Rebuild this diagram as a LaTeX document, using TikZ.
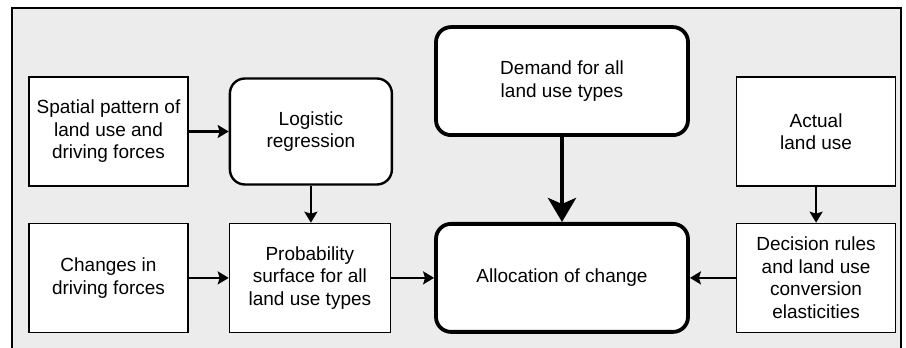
\documentclass[tikz,border=0pt]{standalone}
\usepackage{fontspec}
\setmainfont{Liberation Sans}
\usetikzlibrary{arrows.meta, positioning}
\tikzstyle{every picture} = [node distance=40pt]

\begin{document}
\begin{tikzpicture} [x=1pt, y=1pt,
    box/.style={draw, fill=white, line width=1.4pt, align=center, inner sep=0pt,
                minimum width=159pt, minimum height=109pt, font=\fontsize{19}{22.5}\selectfont},
    rbox/.style={box, rounded corners=15pt},
    link/.style={-{Stealth[length=11pt, width=13pt, inset=2pt]}, line width=2.2pt}]
            \useasboundingbox (0,0) rectangle (906,348);
            \fill[gray!15] (12,0) rectangle (901,340);
            \draw[line width=1.4pt] (12,0) -- (12,340) -- (901,340) -- (901,0);

            \node (node 1) [box] at (108.5,216.5) {Spatial pattern of\\land use and\\driving forces};
            \node (node 2) [rbox,line width=2.4pt,minimum width=162pt,minimum height=106pt,right=40pt of node 1] {Logistic\\regression};
            \node (node 3) [box,below=36pt of node 1] {Changes in\\driving forces};
            \node (node 4) [box,minimum width=161pt,right=40pt of node 3] {Probability\\surface for all\\land use types};
            \node (node 5) [rbox,line width=3.8pt,minimum width=252pt,minimum height=108pt,right=43pt of node 4] {Allocation of change};
            \node (node 6) [rbox,line width=3.8pt,minimum width=252pt,minimum height=108pt,above=85pt of node 5] {Demand for all\\land use types};
            \node (node 7) [box,right=46pt of node 5] {Decision rules\\and land use\\conversion\\elasticities};
            \node (node 8) [box,above=36pt of node 7] {Actual\\land use};

            \draw[link] (node 1) -- (node 2);
            \draw[link] (node 2) -- (node 2 |- node 4.north);
            \draw[link] (node 3) -- (node 4);
            \draw[link] (node 4) -- (node 5);
            \draw[-{Stealth[length=24pt, width=28pt, inset=6pt]}, line width=4.5pt] (node 6) -- (node 5);
            \draw[link] (node 8) -- (node 7);
            \draw[link] (node 7) -- (node 5);
        \end{tikzpicture}
\end{document}
